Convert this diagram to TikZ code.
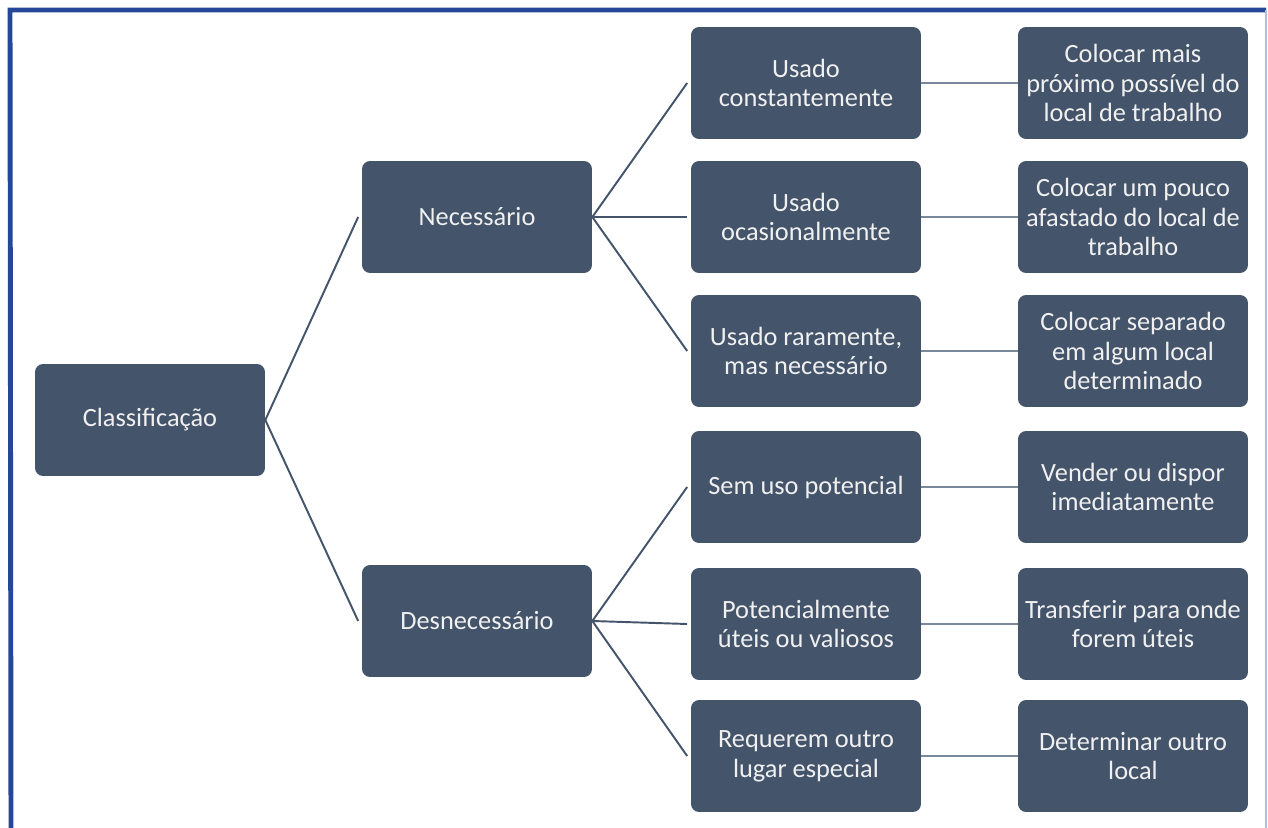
\documentclass[tikz,border=0pt]{standalone}
\usepackage{fontspec}
\setmainfont{Carlito}
\usepackage{xcolor}
\usepackage{tikz}
\definecolor{slate}{HTML}{44546A}
\definecolor{slatelight}{HTML}{7A889C}
\definecolor{frameblue}{HTML}{24479A}
\tikzset{
  box/.style={rectangle, rounded corners=0.16cm, fill=slate, text=white!94!black,
    minimum width=4.6cm, minimum height=2.24cm, align=center, inner sep=2pt,
    font=\fontsize{15}{17}\selectfont},
  branch/.style={draw=slate, line width=1.1pt},
  leafline/.style={draw=slatelight, line width=1.3pt}
}
\begin{document}
\begin{tikzpicture}[x=0.02cm,y=-0.02cm]
    \useasboundingbox (0,0) rectangle (1268,828);
    \fill[white] (0,0) rectangle (1268,828);
    % frame
    \draw[frameblue, line width=2.8pt] (11,828) -- (10,10) -- (1266,10);
    \draw[frameblue!35, line width=0.8pt] (1266,10) -- (1266,828);
    %
    \node[box] (class) at (150,420) {Classificação};
    \node[box] (nec) at (477,217) {Necessário};
    \node[box] (desn) at (477,621) {Desnecessário};
    %
    \node[box] (uc) at (806,83) {Usado\\constantemente};
    \node[box] (uo) at (806,217) {Usado\\ocasionalmente};
    \node[box] (ur) at (806,351) {Usado raramente,\\mas necessário};
    \node[box] (su) at (806,487) {Sem uso potencial};
    \node[box] (pu) at (806,624) {Potencialmente\\úteis ou valiosos};
    \node[box] (rl) at (806,756) {Requerem outro\\lugar especial};
    %
    \node[box] (cm) at (1133,83) {Colocar mais\\próximo possível do\\local de trabalho};
    \node[box] (cp) at (1133,217) {Colocar um pouco\\afastado do local de\\trabalho};
    \node[box] (cs) at (1133,351) {Colocar separado\\em algum local\\determinado};
    \node[box] (vd) at (1133,487) {Vender ou dispor\\imediatamente};
    \node[box] (tf) at (1133,624) {Transferir para onde\\forem úteis};
    \node[box] (dl) at (1133,756) {Determinar outro\\local};
    %
    \draw[branch] (class.east) -- ([xshift=-2]nec.west);
    \draw[branch] (class.east) -- ([xshift=-2]desn.west);
    \foreach \c in {uc,uo,ur}
      \draw[branch] (nec.east) -- ([xshift=-2]\c.west);
    \foreach \c in {su,pu,rl}
      \draw[branch] (desn.east) -- ([xshift=-2]\c.west);
    %
    \foreach \a/\b in {uc/cm,uo/cp,ur/cs,su/vd,pu/tf,rl/dl}
      \draw[leafline] (\a.east) -- (\b.west);
  \end{tikzpicture}
\end{document}
